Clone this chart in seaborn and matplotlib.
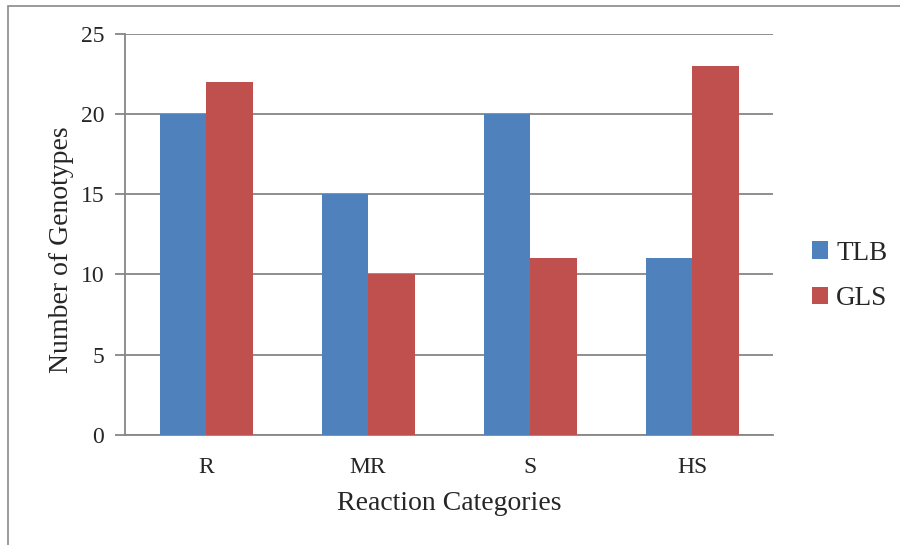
import matplotlib.pyplot as plt
import seaborn as sns
import pandas as pd

categories = ["R", "MR", "S", "HS"]
tlb = [20, 15, 20, 11]
gls = [22, 10, 11, 23]

df = pd.DataFrame({
    "category": categories * 2,
    "count": tlb + gls,
    "series": ["TLB"] * len(categories) + ["GLS"] * len(categories),
})

sns.set_style("white")
plt.rcParams["font.family"] = ["Liberation Serif", "DejaVu Serif"]

fig = plt.figure(figsize=(9, 5.45), dpi=100)
ax = fig.add_axes([0.139, 0.202, 0.72, 0.736])

sns.barplot(data=df, x="category", y="count", hue="series",
            palette=["#4F81BD", "#C0504D"], width=0.575, saturation=1,
            edgecolor="none", ax=ax, zorder=3)

grid_c = "#868686"
ax.set_ylim(0, 25)
ax.set_xlim(-0.5, 3.5)
ax.set_yticks(range(0, 26, 5))
ax.yaxis.grid(True, color=grid_c, linewidth=1.3, zorder=0)
ax.set_axisbelow(True)
for s in ["top", "right"]:
    ax.spines[s].set_visible(False)
for s in ["left", "bottom"]:
    ax.spines[s].set_color(grid_c)
    ax.spines[s].set_linewidth(1.3)

# category boundary ticks on x, label ticks hidden
ax.set_xticks(range(len(categories)))
ax.set_xticklabels(categories)
ax.tick_params(axis="x", length=0, labelsize=17, pad=16)
ax.set_xticks([-0.5, 0.5, 1.5, 2.5, 3.5], minor=True)
ax.tick_params(axis="x", which="minor", length=6, width=1.3, color=grid_c)
ax.tick_params(axis="y", length=7, width=1.3, color=grid_c, labelsize=17, pad=8, left=True)

ax.set_xlabel("Reaction Categories", fontsize=20, labelpad=9)
ax.set_ylabel("Number of Genotypes", fontsize=20, labelpad=5, y=0.461)

ax.legend(loc="center left", bbox_to_anchor=(0.89, 0.494), bbox_transform=fig.transFigure,
          frameon=False, fontsize=19.5, handlelength=0.6, handleheight=0.6,
          handletextpad=0.3, labelspacing=0.75, borderaxespad=0)

border = plt.Rectangle((0.009, -0.01), 1.1, 0.999, transform=fig.transFigure,
                       fill=False, edgecolor="#898989", linewidth=1.2)
fig.patches.append(border)

fig.savefig("out.png", dpi=100)
